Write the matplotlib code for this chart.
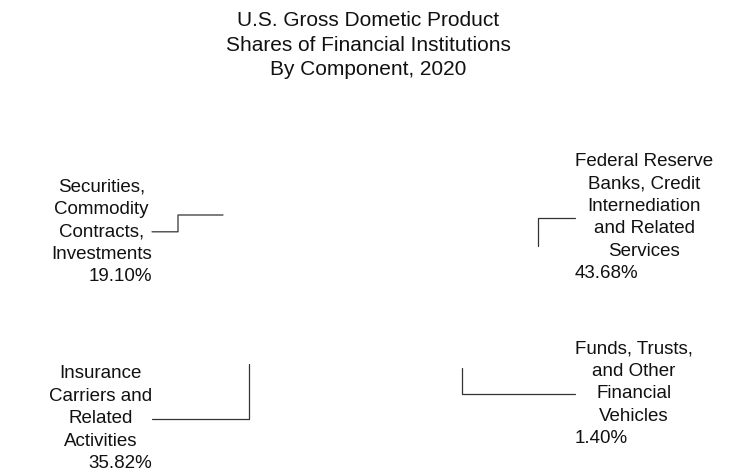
import matplotlib
matplotlib.use('Agg')
import matplotlib.pyplot as plt

# Shares of GDP of financial institutions, 2020
labels = ['Federal Reserve\nBanks, Credit\nInternediation\nand Related\nServices',
          'Funds, Trusts,\nand Other\nFinancial\nVehicles',
          'Insurance\nCarriers and\nRelated\nActivities',
          'Securities,\nCommodity\nContracts,\nInvestments']
shares = [43.68, 1.40, 35.82, 19.10]

title = 'U.S. Gross Dometic Product\nShares of Financial Institutions\nBy Component, 2020'

W, H = 754, 473

def px(x, y):
    # pixel position (from top left) -> figure fraction
    return (x / W, 1 - y / H)

# leader start (x, y) at the text side, leader end point, alignment, connection style
layout = [
    ((575, 217), (538, 246), 'left', 'angle,angleA=0,angleB=90'),
    ((575, 393), (462, 368), 'left', 'angle,angleA=0,angleB=90'),
    ((152, 418), (249, 364), 'right', 'angle,angleA=0,angleB=90'),
    ((152, 231), (223, 215), 'right', 'arc,angleA=0,armA=26,angleB=180,armB=45,rad=0'),
]

fig = plt.figure(figsize=(W / 100, H / 100), dpi=100)
plt.rcParams['font.family'] = ['Liberation Sans', 'DejaVu Sans']

# the pie itself is drawn white, only labels and leaders show
ax = fig.add_axes([0.3, 0.1, 0.4, 0.6])
ax.pie(shares, colors=['white'] * len(shares), startangle=90, counterclock=False,
       wedgeprops=dict(linewidth=0))
ax.set_aspect('equal')

fig.text(368 / W, 1 - 11 / H, title, ha='center', va='top', fontsize=15,
         linespacing=1.38, color='#111111')

fs = 13.5
ls = 1.42
lp_h = 15.8          # height of one text line in px
pitch = ls * lp_h    # line to line distance in px

for name, val, (t, p, ha, cs) in zip(labels, shares, layout):
    n = name.count('\n') + 1
    # the leader meets the middle of the block (name lines + percentage line)
    y_top = t[1] - lp_h / 2 - n / 2 * pitch
    block_h = lp_h + (n - 1) * pitch
    rel_y = (lp_h / 2 + (n / 2 - 1) * pitch) / block_h
    rel = (0, rel_y) if ha == 'left' else (1, rel_y)
    ax.annotate(name, xy=px(*p), xycoords='figure fraction',
                xytext=px(t[0], y_top), textcoords='figure fraction',
                ha=ha, va='top', multialignment='center',
                fontsize=fs, linespacing=ls, color='#111111',
                arrowprops=dict(arrowstyle='-', connectionstyle=cs,
                                color='#333333', lw=0.9, relpos=rel,
                                patchA=None, shrinkA=0, shrinkB=0))
    # percentage line sits flush with the outer edge of the block
    fig.text(*px(t[0], y_top + n * pitch), f'{val:.2f}%',
             ha=ha, va='top', fontsize=fs, color='#111111')

fig.savefig('out.png', dpi=100)
